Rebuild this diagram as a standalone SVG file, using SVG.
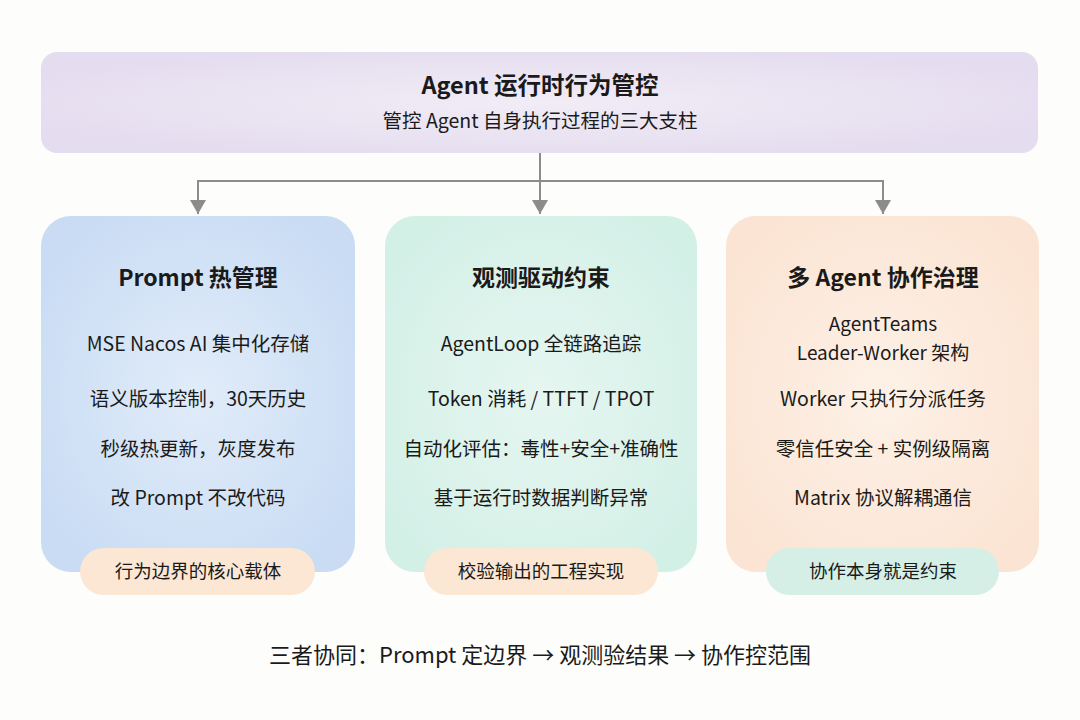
<svg xmlns="http://www.w3.org/2000/svg" width="1080" height="720" viewBox="0 0 1080 720">
<defs>
<style>
text{font-family:"Noto Sans CJK SC","Noto Sans",sans-serif;fill:#1a1a1a;text-anchor:middle}
.t{font-size:23.5px;font-weight:700}
.h{font-size:23px;font-weight:700}
.sub{font-size:19.5px}
.it{font-size:19.5px}
.it2{font-size:19px}
.bd{font-size:18.5px}
.foot{font-size:22px}
.conn{fill:none;stroke:#8c8c8c;stroke-width:2}
</style>
<marker id="arr" viewBox="0 0 14 16" refX="14" refY="8" markerWidth="14" markerHeight="16" markerUnits="userSpaceOnUse" orient="auto-start-reverse">
<path d="M0,0 L14,8 L0,16 Z" fill="#8c8c8c"/>
</marker>
<radialGradient id="gTop" cx="50%" cy="50%" r="60%"><stop offset="0" stop-color="#f1ecf6"/><stop offset="1" stop-color="#e4dcef"/></radialGradient>
<radialGradient id="gBlue" cx="50%" cy="50%" r="60%"><stop offset="0" stop-color="#e1ecf9"/><stop offset="1" stop-color="#c9dcf4"/></radialGradient>
<radialGradient id="gGreen" cx="50%" cy="50%" r="60%"><stop offset="0" stop-color="#e6f6f1"/><stop offset="1" stop-color="#d3f0e7"/></radialGradient>
<radialGradient id="gOrange" cx="50%" cy="50%" r="60%"><stop offset="0" stop-color="#fdf1e7"/><stop offset="1" stop-color="#fbe4d3"/></radialGradient>
</defs>
<rect width="1080" height="720" fill="#fdfdfb"/>

<g id="top">
<rect x="41" y="52" width="997" height="101" rx="16" fill="url(#gTop)"/>
<text class="t" x="540" y="94">Agent 运行时行为管控</text>
<text class="sub" x="540" y="128">管控 Agent 自身执行过程的三大支柱</text>
</g>

<g id="connectors">
<path class="conn" d="M540,153 V214" marker-end="url(#arr)"/>
<path class="conn" d="M198,214 V181 H883 V214" marker-start="url(#arr)" marker-end="url(#arr)"/>
</g>

<g id="prompt">
<rect x="41" y="216" width="314" height="356" rx="30" fill="url(#gBlue)"/>
<text class="h" x="198" y="286">Prompt 热管理</text>
<text class="it" x="198" y="351">MSE Nacos AI 集中化存储</text>
<text class="it" x="198" y="406">语义版本控制，30天历史</text>
<text class="it" x="198" y="456">秒级热更新，灰度发布</text>
<text class="it" x="198" y="505">改 Prompt 不改代码</text>
</g>
<g id="prompt-badge">
<rect x="80" y="548" width="235" height="47" rx="23.5" fill="#fbe7d4"/>
<text class="bd" x="198" y="578">行为边界的核心载体</text>
</g>

<g id="observe">
<rect x="385" y="216" width="312" height="356" rx="30" fill="url(#gGreen)"/>
<text class="h" x="541" y="286">观测驱动约束</text>
<text class="it" x="541" y="351">AgentLoop 全链路追踪</text>
<text class="it" x="541" y="406">Token 消耗 / TTFT / TPOT</text>
<text class="it" x="541" y="456">自动化评估：毒性+安全+准确性</text>
<text class="it" x="541" y="505">基于运行时数据判断异常</text>
</g>
<g id="observe-badge">
<rect x="424" y="548" width="234" height="47" rx="23.5" fill="#fbe7d4"/>
<text class="bd" x="541" y="578">校验输出的工程实现</text>
</g>

<g id="multi">
<rect x="726" y="216" width="313" height="356" rx="30" fill="url(#gOrange)"/>
<text class="h" x="883" y="286">多 Agent 协作治理</text>
<text class="it2" x="883" y="331">AgentTeams</text>
<text class="it2" x="883" y="360">Leader-Worker 架构</text>
<text class="it" x="883" y="406">Worker 只执行分派任务</text>
<text class="it" x="883" y="456">零信任安全 + 实例级隔离</text>
<text class="it" x="883" y="505">Matrix 协议解耦通信</text>
</g>
<g id="multi-badge">
<rect x="766" y="548" width="233" height="47" rx="23.5" fill="#d5efe6"/>
<text class="bd" x="883" y="578">协作本身就是约束</text>
</g>

<g id="footer">
<text class="foot" x="540" y="663">三者协同：Prompt 定边界 → 观测验结果 → 协作控范围</text>
</g>
</svg>
